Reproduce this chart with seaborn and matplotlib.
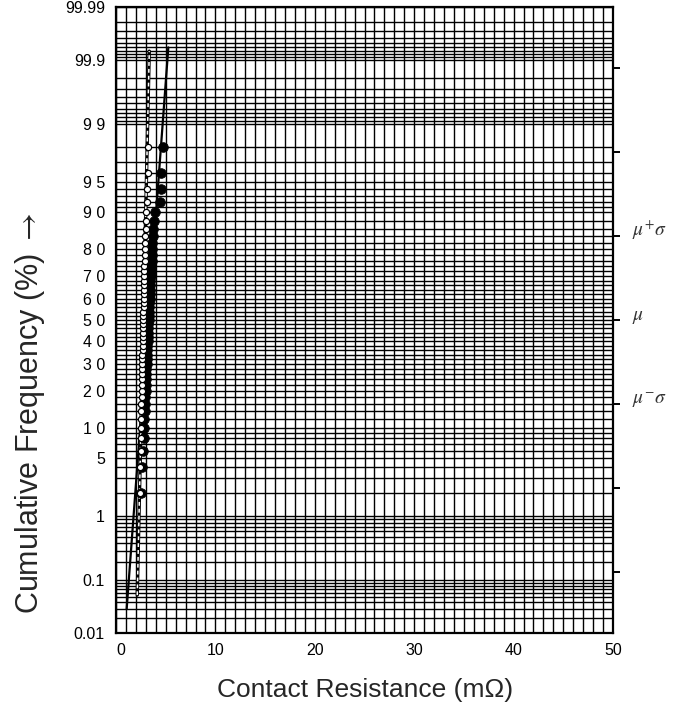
import numpy as np
import pandas as pd
import matplotlib
matplotlib.use("Agg")
import matplotlib.pyplot as plt
from matplotlib.ticker import MultipleLocator
import matplotlib.transforms as mtransforms
import seaborn as sns
from statistics import NormalDist

# ---------------------------------------------------------------- data
# cumulative plotting positions (%) for 49 sorted samples
cum_freq = [2, 4, 6, 8, 10, 12, 14, 16, 18, 20, 22, 24, 26, 28, 30, 32, 34,
            36, 38, 40, 42, 44, 46, 48, 50, 52, 54, 56, 58, 60, 62, 64, 66,
            68, 70, 72, 74, 76, 78, 80, 82, 84, 86, 88, 90, 92, 94, 96, 98]

# contact resistance (mOhm), open-circle sample
res_open = [2.42, 2.42, 2.47, 2.50, 2.52, 2.53, 2.55, 2.56, 2.57, 2.59,
            2.60, 2.61, 2.62, 2.63, 2.64, 2.65, 2.66, 2.67, 2.68, 2.69,
            2.70, 2.71, 2.72, 2.73, 2.74, 2.75, 2.76, 2.77, 2.78, 2.79,
            2.80, 2.81, 2.82, 2.83, 2.84, 2.85, 2.86, 2.88, 2.89, 2.91,
            2.93, 2.95, 2.97, 3.00, 3.05, 3.08, 3.15, 3.25, 3.25]

# contact resistance (mOhm), filled-circle sample
res_filled = [2.55, 2.62, 2.72, 2.78, 2.82, 2.86, 2.89, 2.92, 2.95, 2.97,
              3.00, 3.02, 3.04, 3.06, 3.08, 3.10, 3.12, 3.14, 3.16, 3.18,
              3.20, 3.22, 3.24, 3.26, 3.28, 3.30, 3.32, 3.34, 3.36, 3.38,
              3.40, 3.42, 3.44, 3.47, 3.50, 3.52, 3.55, 3.58, 3.61, 3.64,
              3.67, 3.70, 3.74, 3.80, 3.92, 4.43, 4.53, 4.55, 4.70]

# fitted normal distributions: mean, std. dev. and drawn range (%)
fit_mean = [3.23, 2.75]
fit_sd = [0.628, 0.187]
fit_from = [0.03, 0.054]
fit_to = [99.94, 99.93]

y_tick_vals = [0.01, 0.1, 1, 5, 10, 20, 30, 40, 50, 60, 70, 80, 90, 95, 99,
               99.9, 99.99]
y_tick_labels = ["0.01", "0.1", "1", "5", "1 0", "2 0", "3 0", "4 0", "5 0",
                 "6 0", "7 0", "8 0", "9 0", "9 5", "9 9", "99.9", "99.99"]
x_tick_vals = [0, 10, 20, 30, 40, 50]

sigma_labels = ["$\\mu^{+}\\sigma$", "$\\mu$", "$\\mu^{-}\\sigma$"]
sigma_steps = [1, 0, -1]
sigma_ticks = [-3, -2, -1, 0, 1, 2, 3]

# ---------------------------------------------------------------- probit scale
_nd = NormalDist()
_inv = np.vectorize(lambda p: _nd.inv_cdf(p), otypes=[float])
_cdf = np.vectorize(lambda z: _nd.cdf(z), otypes=[float])


def pct_to_z(p):
    p = np.clip(np.asarray(p, dtype=float) / 100.0, 1e-9, 1 - 1e-9)
    return _inv(p)


def z_to_pct(z):
    return _cdf(np.asarray(z, dtype=float)) * 100.0


# probability-paper horizontal rulings
grid_pct = np.concatenate([
    np.arange(1, 10) * 0.01,
    np.arange(1, 10) * 0.1,
    np.arange(1, 10) * 1.0,
    np.arange(10, 91, 2) * 1.0,
    np.arange(91, 100) * 1.0,
    99 + np.arange(1, 10) * 0.1,
    99.9 + np.arange(1, 10) * 0.01,
])

# ---------------------------------------------------------------- figure
sns.set_style("white")
plt.rcParams["font.family"] = ["Liberation Sans", "DejaVu Sans"]
plt.rcParams["mathtext.fontset"] = "stix"

fig = plt.figure(figsize=(6.86, 7.05), dpi=100)
ax = fig.add_axes([116 / 686, 1 - 633 / 705, 497 / 686, 626 / 705])
ax.set_yscale("function", functions=(pct_to_z, z_to_pct))

df_open = pd.DataFrame({"resistance": res_open, "cum": cum_freq})
df_filled = pd.DataFrame({"resistance": res_filled, "cum": cum_freq})

# fitted lines
line_x, line_y = [], []
for m, s, a, b in zip(fit_mean, fit_sd, fit_from, fit_to):
    za, zb = pct_to_z([a, b])
    line_x.append([m + s * za, m + s * zb])
    line_y.append([a, b])

sns.lineplot(x=line_x[0], y=line_y[0], ax=ax, color="black", lw=1.6,
             sort=False, estimator=None, zorder=3)
sns.lineplot(x=line_x[1], y=line_y[1], ax=ax, color="black", lw=2.4,
             sort=False, estimator=None, zorder=3)
sns.lineplot(x=line_x[1], y=line_y[1], ax=ax, color="white", lw=1.1,
             sort=False, estimator=None, zorder=3.1)
ax.lines[-1].set_dashes([2.5, 2.0])

sns.scatterplot(data=df_filled, x="resistance", y="cum", ax=ax,
                color="black", edgecolor="black", s=48, linewidth=0.6,
                zorder=4)
sns.scatterplot(data=df_open, x="resistance", y="cum", ax=ax,
                color="white", edgecolor="black", s=20, linewidth=0.9,
                zorder=5)

ax.set_xlim(0, 50)
ax.set_ylim(0.01, 99.99)

ax.set_xticks(x_tick_vals)
ax.xaxis.set_minor_locator(MultipleLocator(1))
ax.set_yticks(y_tick_vals, labels=y_tick_labels)
ax.set_yticks(grid_pct, minor=True)
ax.set_yticklabels([], minor=True)

ax.grid(True, which="both", axis="both", color="black", lw=1.0, zorder=1)
ax.set_axisbelow(True)
ax.tick_params(axis="both", which="both", length=0, labelsize=11.5,
               colors="black")
ax.tick_params(axis="y", pad=8)
ax.tick_params(axis="x", pad=7)
for sp in ax.spines.values():
    sp.set_visible(True)
    sp.set_color("black")
    sp.set_linewidth(1.6)
ax.set_xlabel("")
ax.set_ylabel("")

# nudge the "0" label a little to the right
zero_lab = ax.get_xticklabels()[0]
zero_lab.set_transform(zero_lab.get_transform() +
                       mtransforms.ScaledTranslation(5 / 100, 0,
                                                     fig.dpi_scale_trans))

# right-hand sigma ticks
ax2 = ax.twinx()
ax2.set_yscale("function", functions=(pct_to_z, z_to_pct))
ax2.set_ylim(0.01, 99.99)
ax2.set_yticks(z_to_pct(np.array(sigma_ticks, dtype=float)))
ax2.set_yticklabels([])
ax2.yaxis.set_minor_locator(plt.NullLocator())
ax2.tick_params(axis="y", direction="out", length=5, width=1.4,
                colors="black")
ax2.grid(False)
for sp in ax2.spines.values():
    sp.set_visible(False)

blend = mtransforms.blended_transform_factory(ax.transAxes, ax.transData)
for lab, k in zip(sigma_labels, sigma_steps):
    ax.text(1.038, float(z_to_pct(k)), lab, transform=blend, ha="left",
            va="baseline", fontsize=14, color="#333333")

fig.text(30 / 686, 1 - 413 / 705, "Cumulative Frequency (%) $\\rightarrow$",
         rotation=90, ha="center", va="center", fontsize=22)
fig.text(365 / 686, 1 - 690 / 705, "Contact Resistance (m\u03a9)",
         ha="center", va="center", fontsize=19)

fig.savefig("out.png", dpi=100)
